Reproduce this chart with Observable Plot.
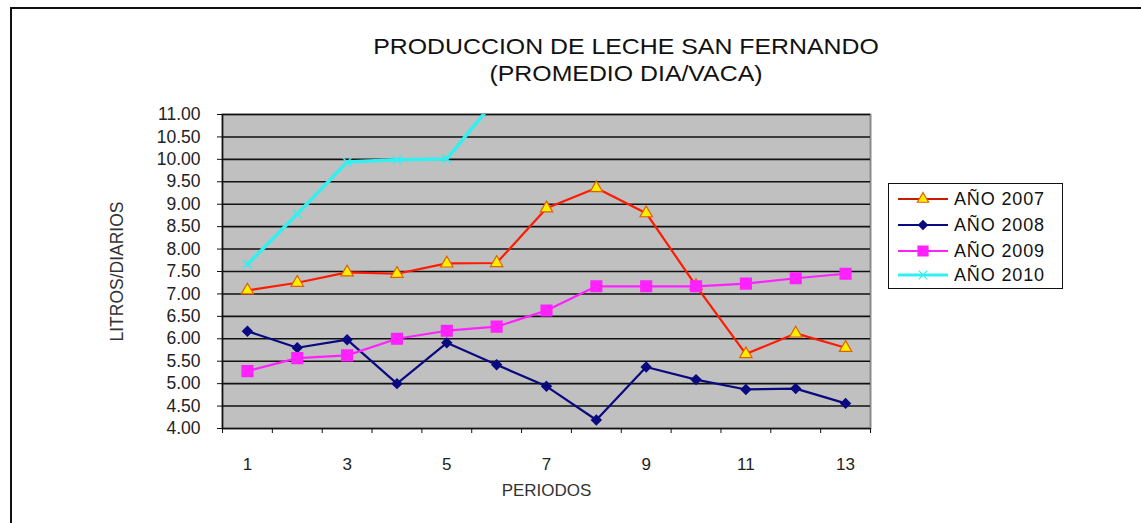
<!DOCTYPE html>
<html>
<head>
<meta charset="utf-8">
<script src="https://cdn.jsdelivr.net/npm/d3@7"></script>
<script src="https://cdn.jsdelivr.net/npm/@observablehq/plot@0.6"></script>
<style>
  body { margin: 0; background: #fff; font-family: "Liberation Sans", Arial, sans-serif; }
  #wrap { position: relative; width: 1141px; height: 523px; overflow: hidden; background: #fff; }
  #border { position: absolute; left: 10px; top: 7px; right: -10px; bottom: -10px; border-left: 2px solid #111; border-top: 2px solid #111; }
  #chart { position: absolute; left: 0; top: 0; }
  .title { position: absolute; left: 0; width: 1252px; text-align: center; font-size: 22px; color: #111; transform: scaleX(1.13); transform-origin: 626px 0; white-space: nowrap; }
  #legend { position: absolute; left: 888px; top: 183px; width: 173px; height: 104px; border: 1px solid #111; background: #fff; }
</style>
</head>
<body>
<div id="wrap">
  <div id="border"></div>
  <div id="chart"></div>
  <div class="title" style="top:34px">PRODUCCION DE LECHE SAN FERNANDO</div>
  <div class="title" style="top:61px">(PROMEDIO DIA/VACA)</div>
  <div id="legend"></div>
</div>
<script>
const periods = [1, 2, 3, 4, 5, 6, 7, 8, 9, 10, 11, 12, 13];
const y2007 = [7.08, 7.25, 7.48, 7.45, 7.68, 7.69, 8.91, 9.36, 8.80, 7.18, 5.66, 6.12, 5.80];
const y2008 = [6.17, 5.80, 5.98, 5.00, 5.91, 5.42, 4.94, 4.19, 5.37, 5.09, 4.87, 4.89, 4.56];
const y2009 = [5.28, 5.57, 5.63, 6.00, 6.18, 6.27, 6.63, 7.17, 7.17, 7.17, 7.23, 7.35, 7.45];
const periods2010 = [1, 2, 3, 4, 5, 6];
const y2010 = [7.66, 8.78, 9.94, 9.99, 10.01, 11.36];
const seriesNames = ["AÑO 2007", "AÑO 2008", "AÑO 2009", "AÑO 2010"];
const yTicks = [4, 4.5, 5, 5.5, 6, 6.5, 7, 7.5, 8, 8.5, 9, 9.5, 10, 10.5, 11];
const xLabelTicks = [1, 3, 5, 7, 9, 11, 13];

const d07 = periods.map((p, i) => ({x: p, y: y2007[i]}));
const d08 = periods.map((p, i) => ({x: p, y: y2008[i]}));
const d09 = periods.map((p, i) => ({x: p, y: y2009[i]}));
const d10 = periods2010.map((p, i) => ({x: p, y: y2010[i]}));
const boundaries = d3.range(0, periods.length + 1).map(i => i + 0.5);

const font = "Liberation Sans, Arial, sans-serif";

const chart = Plot.plot({
  width: 1141,
  height: 523,
  marginLeft: 222,
  marginRight: 271,
  marginTop: 114,
  marginBottom: 95,
  style: {fontFamily: font, fontSize: "16px", color: "#111", background: "transparent", overflow: "visible"},
  x: {domain: [0.5, 13.5]},
  y: {domain: [4, 11]},
  marks: [
    Plot.frame({fill: "#c0c0c0", stroke: "#8a8a8a", strokeWidth: 2}),
    Plot.ruleY(yTicks.filter(v => v > 4), {stroke: "#111", strokeWidth: 1.6}),
    Plot.axisY({ticks: yTicks, tickFormat: d => d.toFixed(2), tickSize: 5, tickPadding: 17, fontSize: 17.5, stroke: "#111", fill: "#222", label: null}),
    Plot.axisX({ticks: boundaries, tickSize: 5, tickFormat: () => "", stroke: "#111", label: null}),
    Plot.axisX({ticks: xLabelTicks, tickSize: 0, tickPadding: 29, fontSize: 17, fill: "#222", label: null}),
    Plot.ruleX([0.5], {stroke: "#111", strokeWidth: 1.5}),
    Plot.ruleY([4], {stroke: "#111", strokeWidth: 1.5}),
    Plot.text(["LITROS/DIARIOS"], {frameAnchor: "left", textAnchor: "middle", dx: -105, rotate: -90, fontSize: 17.5, fill: "#333"}),
    Plot.text(["PERIODOS"], {frameAnchor: "bottom", dy: 67, fontSize: 17, fill: "#333"}),
    Plot.line(d07, {x: "x", y: "y", stroke: "#ff1a00", strokeWidth: 2.2}),
    Plot.dot(d07, {x: "x", y: "y", symbol: "triangle", r: 4.6, fill: "#ffee00", stroke: "#e06000", strokeWidth: 1.2}),
    Plot.line(d08, {x: "x", y: "y", stroke: "#0a0a80", strokeWidth: 2.2}),
    Plot.dot(d08, {x: "x", y: "y", symbol: "diamond2", r: 4.2, fill: "#0a0a80", stroke: "#0a0a80"}),
    Plot.line(d09, {x: "x", y: "y", stroke: "#ff22ff", strokeWidth: 2.2}),
    Plot.dot(d09, {x: "x", y: "y", symbol: "square", r: 6, fill: "#ff22ff", stroke: "#ff22ff"}),
    Plot.line(d10, {x: "x", y: "y", stroke: "#33f0f0", strokeWidth: 3.5, clip: true}),
    Plot.dot(d10, {x: "x", y: "y", symbol: "times", r: 4, stroke: "#33f0f0", strokeWidth: 1.5, clip: true})
  ]
});
document.getElementById("chart").appendChild(chart);

// Legend
const legendSpec = [
  {name: seriesNames[0], stroke: "#c81a00", symbol: d3.symbolTriangle, size: 55, fill: "#ffee00", mstroke: "#e06000"},
  {name: seriesNames[1], stroke: "#0a0a80", symbol: d3.symbolDiamond2, size: 50, fill: "#0a0a80", mstroke: "#0a0a80"},
  {name: seriesNames[2], stroke: "#ff22ff", symbol: d3.symbolSquare, size: 100, fill: "#ff22ff", mstroke: "#ff22ff"},
  {name: seriesNames[3], stroke: "#33f0f0", symbol: d3.symbolTimes, size: 50, fill: "none", mstroke: "#33f0f0"}
];
const lsvg = d3.select("#legend").append("svg").attr("width", 173).attr("height", 104)
  .style("font-family", font).style("font-size", "18px");
const rowY = [15, 41, 67, 91];
legendSpec.forEach((s, i) => {
  const g = lsvg.append("g").attr("transform", `translate(0,${rowY[i]})`);
  g.append("line").attr("x1", 9).attr("x2", 59).attr("y1", 0).attr("y2", 0).attr("stroke", s.stroke).attr("stroke-width", i === 3 ? 3 : 2);
  g.append("path").attr("d", d3.symbol(s.symbol, s.size)()).attr("transform", "translate(34,0)")
    .attr("fill", s.fill).attr("stroke", s.mstroke).attr("stroke-width", 1.2);
  g.append("text").attr("x", 65).attr("y", 0).attr("dy", "0.35em").attr("fill", "#111")
    .attr("textLength", 90).text(s.name);
});
</script>
</body>
</html>
